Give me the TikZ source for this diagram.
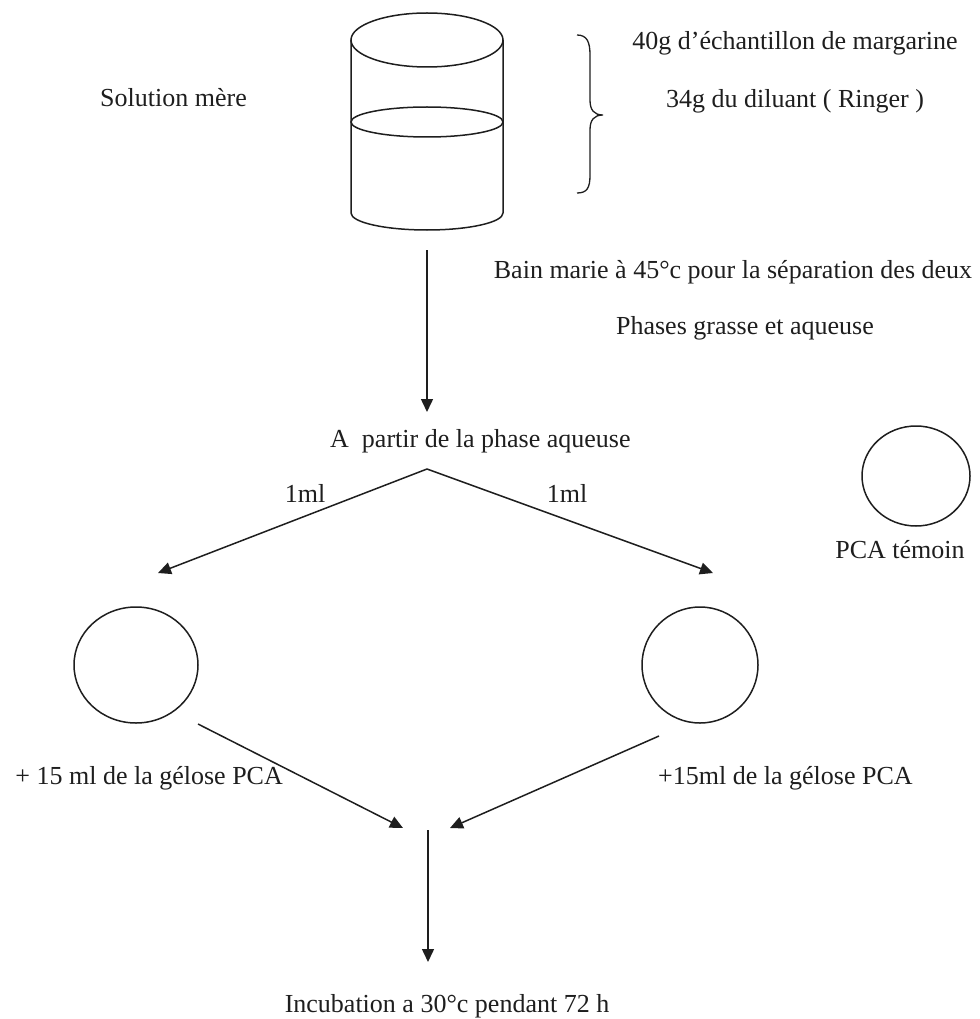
\documentclass[tikz,border=0pt]{standalone}
\usepackage{fontspec}
\setmainfont{Liberation Serif}
\usetikzlibrary{arrows.meta,shapes.geometric}
\definecolor{ink}{HTML}{1E1E1E}
\tikzset{
  lbl/.style={inner sep=0pt, text=ink, font=\fontsize{26}{31}\selectfont},
  ln/.style={draw=ink, line width=1.5pt},
  arr/.style={ln, -{Triangle[length=13pt,width=12pt]}},
  plate/.style={ellipse, draw=ink, line width=1.5pt, inner sep=0pt}
}
\begin{document}
\begin{tikzpicture}[x=1pt,y=-1pt]
\useasboundingbox (0,0) rectangle (979,1019);
% beaker
\draw[ln] (427,40) ellipse [x radius=76, y radius=27];
\draw[ln] (427,122) ellipse [x radius=76, y radius=15];
\draw[ln] (351,40) -- (351,213) arc [start angle=180, end angle=0, x radius=76, y radius=17] -- (503,40);
% brace
\draw[ln, line width=1.3pt] (577,35) .. controls (587,35) and (590,42) .. (590,55) -- (590,100)
  .. controls (590,110) and (594,115) .. (603,115)
  .. controls (594,115) and (590,120) .. (590,130) -- (590,175)
  .. controls (590,188) and (587,193) .. (577,193);
% texts
\node[lbl, anchor=base west] (sol) at (100,107) {Solution mère};
\node[lbl, anchor=base] (ech) at (795,50) {40g d’échantillon de margarine};
\node[lbl, anchor=base] (dil) at (795,108) {34g du diluant ( Ringer )};
\node[lbl, anchor=base] (bain) at (733,278) {Bain marie à 45°c pour la séparation des deux};
\node[lbl, anchor=base] (phases) at (745,334) {Phases grasse et aqueuse};
\node[lbl, anchor=base west] (apartir) at (330,447) {A\ \ partir de la phase aqueuse};
\node[lbl, anchor=base] (mlL) at (305,502) {1ml};
\node[lbl, anchor=base] (mlR) at (567,502) {1ml};
\node[lbl, anchor=base] (temoinlbl) at (900,558) {PCA témoin};
\node[lbl, anchor=base east] (gelL) at (283,784) {+ 15 ml de la gélose PCA};
\node[lbl, anchor=base west] (gelR) at (658,784) {+15ml de la gélose PCA};
\node[lbl, anchor=base] (incub) at (447,1012) {Incubation a 30°c pendant 72 h};
% plates
\node[plate, minimum width=124pt, minimum height=116pt] (pL) at (136,665) {};
\node[plate, minimum width=116pt, minimum height=116pt] (pR) at (700,665) {};
\node[plate, minimum width=108pt, minimum height=100pt] (pT) at (916,476) {};
% connector points
\coordinate (c1) at (427,250);
\coordinate (c2) at (427,412);
\coordinate (apex) at (427,469);
\coordinate (tipL) at (158,573);
\coordinate (tipR) at (713,573);
\coordinate (sL) at (198,724);
\coordinate (sR) at (659,736);
\coordinate (mL) at (403,828);
\coordinate (mR) at (450,828);
\coordinate (d1) at (428,830);
\coordinate (d2) at (428,962);
% arrows
\draw[arr] (c1) -- (c2);
\draw[arr] (apex) -- (tipL);
\draw[arr] (apex) -- (tipR);
\draw[arr] (sL) -- (mL);
\draw[arr] (sR) -- (mR);
\draw[arr] (d1) -- (d2);
\end{tikzpicture}
\end{document}
